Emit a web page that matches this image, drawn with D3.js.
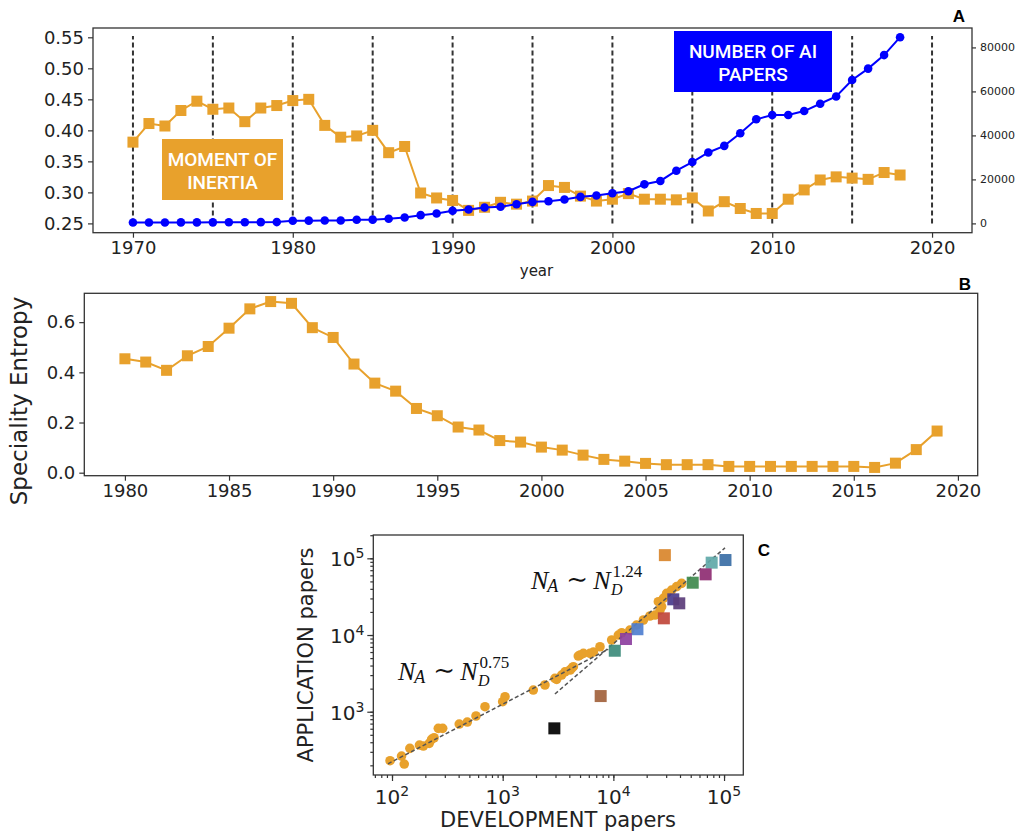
<!DOCTYPE html>
<html><head><meta charset="utf-8">
<script src="https://cdn.jsdelivr.net/npm/d3@7"></script>
<style>body{margin:0;background:#fff} svg{display:block}</style>
</head><body>
<svg id="c" width="1032" height="833"></svg>
<script>
// ---------- Panel A data ----------
const yearsA = [1970,1971,1972,1973,1974,1975,1976,1977,1978,1979,1980,1981,1982,1983,1984,1985,1986,1987,1988,1989,1990,1991,1992,1993,1994,1995,1996,1997,1998,1999,2000,2001,2002,2003,2004,2005,2006,2007,2008,2009,2010,2011,2012,2013,2014,2015,2016,2017,2018];
const inertia = [0.381,0.411,0.407,0.432,0.447,0.434,0.436,0.414,0.436,0.440,0.448,0.450,0.408,0.389,0.391,0.400,0.364,0.374,0.299,0.291,0.287,0.271,0.276,0.284,0.281,0.286,0.311,0.308,0.294,0.286,0.289,0.298,0.289,0.289,0.288,0.291,0.270,0.285,0.274,0.266,0.266,0.289,0.304,0.320,0.325,0.323,0.321,0.332,0.328];
const aiPapers = [400,420,430,450,460,480,500,520,560,600,1200,1250,1300,1350,1650,1700,2100,2700,3750,4500,5740,6330,7230,7600,8720,9800,10080,10850,12070,12650,13700,14600,17760,19300,23950,27880,32230,35250,41000,47320,49270,49300,51070,54380,57700,65220,70370,76520,84650];
const vlineYears = [1970,1975,1980,1985,1990,1995,2000,2005,2010,2015,2020];
const xTicksA = [1970,1980,1990,2000,2010,2020];
const yTicksA = [0.25,0.30,0.35,0.40,0.45,0.50,0.55];
const yTicksRightA = [0,20000,40000,60000,80000];
const labelInertia = ["MOMENT OF","INERTIA"];
const labelPapers = ["NUMBER OF AI","PAPERS"];

// ---------- Panel B data ----------
const yearsB = [1980,1981,1982,1983,1984,1985,1986,1987,1988,1989,1990,1991,1992,1993,1994,1995,1996,1997,1998,1999,2000,2001,2002,2003,2004,2005,2006,2007,2008,2009,2010,2011,2012,2013,2014,2015,2016,2017,2018,2019];
const entropy = [0.454,0.441,0.408,0.466,0.503,0.576,0.653,0.682,0.675,0.578,0.539,0.433,0.357,0.325,0.256,0.227,0.182,0.170,0.128,0.122,0.102,0.090,0.070,0.053,0.046,0.037,0.032,0.032,0.032,0.025,0.025,0.025,0.025,0.025,0.025,0.025,0.021,0.038,0.092,0.166];
const xTicksB = [1980,1985,1990,1995,2000,2005,2010,2015,2020];
const yTicksB = [0.0,0.2,0.4,0.6];

// ---------- Panel C data ----------
const devPapers = [96,122,129,145,177,192,217,228,240,262,287,405,479,574,692,1000,1050,1890,2410,2965,3075,3410,3656,4070,4200,4350,4820,4990,5360,6150,6600,7570,9660,11100,11900,14100,16200,18700,21400,23800,26400,25500,27300,28300,30300,33600,37300,41400];
const appPapers = [230,264,208,333,368,357,387,436,458,607,607,691,734,879,1162,1350,1570,1918,2230,2725,2642,3006,3313,3500,3680,3860,5320,5480,5770,5770,6000,7030,8610,10000,10700,11600,13500,15700,17700,18200,21200,27200,23400,30100,34900,38600,42700,47200];
const fieldDev = [29200,77300,103000,68200,52100,34800,39400,28600,16500,13000,10300,7680,2930];
const fieldApp = [110000,87800,95000,61800,48100,29200,25900,16500,11900,8870,6240,1600,607];
const fieldColors = ["#d9862b","#5fa8a8","#3a6ea5","#8e2c72","#3f8a4e","#4a3c8c","#5b3d7a","#c0473b","#4f7fd0","#8c3f9e","#3d8b7b","#a2623c","#000000"];
const fitExponents = [0.75,1.24];
const fitCoefs = [7.05,0.0843];
const fitFrom = [92,2965];
const fitTo = [9000,102000];
const logTicks = [100,1000,10000,100000];
const logTickExp = ["2","3","4","5"];

const ORANGE = "#e8a12c", BLUE = "#0000ff", AXIS = "#333";
const svg = d3.select("#c");
const FONT = "DejaVu Sans";

function styleAxis(g, fs) {
  g.select(".domain").remove();
  g.selectAll(".tick line").attr("stroke", AXIS).attr("stroke-width", 1.2);
  g.selectAll(".tick text").attr("font-family", FONT).attr("font-size", fs).attr("fill", "#222");
}
function frame(x0, y0, x1, y1) {
  svg.append("rect").attr("x", x0).attr("y", y0).attr("width", x1 - x0).attr("height", y1 - y0)
    .attr("fill", "none").attr("stroke", AXIS).attr("stroke-width", 1.3);
}

// ================= Panel A =================
const A = {l: 93, r: 972, t: 28, b: 232.7};
const xA = d3.scaleLinear().domain([1967.5, 2022.5]).range([A.l, A.r]);
const yA = d3.scaleLinear().domain([0.235, 0.565]).range([A.b, A.t]);
const yA2 = d3.scaleLinear().domain([-4230, 88830]).range([A.b, A.t]);

svg.append("g").attr("transform", `translate(0,${A.b})`)
  .call(d3.axisBottom(xA).tickValues(xTicksA).tickFormat(d3.format("d")).tickSize(5).tickPadding(4))
  .call(g => styleAxis(g, 18));
svg.append("g").attr("transform", `translate(${A.l},0)`)
  .call(d3.axisLeft(yA).tickValues(yTicksA).tickFormat(d3.format(".2f")).tickSize(5).tickPadding(4))
  .call(g => styleAxis(g, 18));
svg.append("g").attr("transform", `translate(${A.r},0)`)
  .call(d3.axisRight(yA2).tickValues(yTicksRightA).tickFormat(d3.format("d")).tickSize(4).tickPadding(4))
  .call(g => styleAxis(g, 11));

svg.append("g").selectAll("line").data(vlineYears).join("line")
  .attr("x1", d => xA(d)).attr("x2", d => xA(d))
  .attr("y1", yA(0.25)).attr("y2", yA(0.552))
  .attr("stroke", "#333").attr("stroke-width", 2).attr("stroke-dasharray", "5,3");

const inertiaPts = yearsA.map((y, i) => [y, inertia[i]]);
const paperPts = yearsA.map((y, i) => [y, aiPapers[i]]);
svg.append("path").datum(inertiaPts)
  .attr("d", d3.line().x(d => xA(d[0])).y(d => yA(d[1])))
  .attr("fill", "none").attr("stroke", ORANGE).attr("stroke-width", 2);
svg.append("g").selectAll("rect").data(inertiaPts).join("rect")
  .attr("x", d => xA(d[0]) - 5.5).attr("y", d => yA(d[1]) - 5.5)
  .attr("width", 11).attr("height", 11).attr("fill", ORANGE);
svg.append("path").datum(paperPts)
  .attr("d", d3.line().x(d => xA(d[0])).y(d => yA2(d[1])))
  .attr("fill", "none").attr("stroke", BLUE).attr("stroke-width", 2);
svg.append("g").selectAll("circle").data(paperPts).join("circle")
  .attr("cx", d => xA(d[0])).attr("cy", d => yA2(d[1])).attr("r", 4.3).attr("fill", BLUE);

frame(A.l, A.t, A.r, A.b);

function labelBox(x0, y0, w, h, fill, lines, cx, base0) {
  svg.append("rect").attr("x", x0).attr("y", y0).attr("width", w).attr("height", h).attr("fill", fill);
  lines.forEach((t, i) => svg.append("text").attr("x", cx).attr("y", base0 + i * 23.5)
    .attr("text-anchor", "middle").attr("font-family", "Roboto").attr("font-weight", 500)
    .attr("font-size", 19).attr("fill", "#fff").text(t));
}
labelBox(162, 139, 121, 61, ORANGE, labelInertia, 222.5, 165.5);
labelBox(674, 31, 158, 61, BLUE, labelPapers, 753, 57.5);

svg.append("text").attr("x", (A.l + A.r) / 2 + 4).attr("y", 276).attr("text-anchor", "middle")
  .attr("font-family", FONT).attr("font-size", 15).attr("fill", "#222").text("year");
svg.append("text").attr("x", 959).attr("y", 22).attr("text-anchor", "middle")
  .attr("font-family", "Liberation Sans").attr("font-weight", "bold").attr("font-size", 17).text("A");

// ================= Panel B =================
const B = {l: 84.3, r: 977.7, t: 293.3, b: 475.7};
const xB = d3.scaleLinear().domain([1978.05, 2020.95]).range([B.l, B.r]);
const yB = d3.scaleLinear().domain([-0.012, 0.715]).range([B.b, B.t]);
svg.append("g").attr("transform", `translate(0,${B.b})`)
  .call(d3.axisBottom(xB).tickValues(xTicksB).tickFormat(d3.format("d")).tickSize(5).tickPadding(4))
  .call(g => styleAxis(g, 18));
svg.append("g").attr("transform", `translate(${B.l},0)`)
  .call(d3.axisLeft(yB).tickValues(yTicksB).tickFormat(d3.format(".1f")).tickSize(5).tickPadding(4))
  .call(g => styleAxis(g, 18));
const entPts = yearsB.map((y, i) => [y, entropy[i]]);
svg.append("path").datum(entPts)
  .attr("d", d3.line().x(d => xB(d[0])).y(d => yB(d[1])))
  .attr("fill", "none").attr("stroke", ORANGE).attr("stroke-width", 2);
svg.append("g").selectAll("rect").data(entPts).join("rect")
  .attr("x", d => xB(d[0]) - 5.5).attr("y", d => yB(d[1]) - 5.5)
  .attr("width", 11).attr("height", 11).attr("fill", ORANGE);
frame(B.l, B.t, B.r, B.b);
svg.append("text").attr("transform", "translate(27,401) rotate(-90)").attr("text-anchor", "middle")
  .attr("font-family", FONT).attr("font-size", 23).attr("fill", "#222").text("Speciality Entropy");
svg.append("text").attr("x", 965).attr("y", 290).attr("text-anchor", "middle")
  .attr("font-family", "Liberation Sans").attr("font-weight", "bold").attr("font-size", 17).text("B");

// ================= Panel C =================
const C = {l: 373.3, r: 743.3, t: 535, b: 775};
const xC = d3.scaleLog().domain([Math.pow(10, 1.831), Math.pow(10, 5.174)]).range([C.l, C.r]);
const yC = d3.scaleLog().domain([Math.pow(10, 2.175), Math.pow(10, 5.304)]).range([C.b, C.t]);
svg.append("g").attr("transform", `translate(0,${C.b})`)
  .call(d3.axisBottom(xC).tickValues(xC.ticks()).tickFormat(() => "").tickSize(3))
  .call(g => styleAxis(g, 10));
svg.append("g").attr("transform", `translate(${C.l},0)`)
  .call(d3.axisLeft(yC).tickValues(yC.ticks()).tickFormat(() => "").tickSize(3))
  .call(g => styleAxis(g, 10));
svg.append("g").attr("transform", `translate(0,${C.b})`)
  .call(d3.axisBottom(xC).tickValues(logTicks).tickFormat(() => "").tickSize(6))
  .call(g => styleAxis(g, 10));
svg.append("g").attr("transform", `translate(${C.l},0)`)
  .call(d3.axisLeft(yC).tickValues(logTicks.slice(1)).tickFormat(() => "").tickSize(6))
  .call(g => styleAxis(g, 10));
logTicks.forEach((v, i) => {
  const t = svg.append("text").attr("x", xC(v)).attr("y", C.b + 29).attr("text-anchor", "middle")
    .attr("font-family", FONT).attr("font-size", 20).attr("fill", "#222");
  t.append("tspan").text("10");
  t.append("tspan").attr("font-size", 14).attr("dy", -8).text(logTickExp[i]);
});
logTicks.slice(1).forEach((v, i) => {
  const t = svg.append("text").attr("x", C.l - 9).attr("y", yC(v) + 8).attr("text-anchor", "end")
    .attr("font-family", FONT).attr("font-size", 20).attr("fill", "#222");
  t.append("tspan").text("10");
  t.append("tspan").attr("font-size", 14).attr("dy", -8).text(logTickExp[i + 1]);
});

const scPts = devPapers.map((d, i) => [d, appPapers[i]]);
svg.append("g").selectAll("circle").data(scPts).join("circle")
  .attr("cx", d => xC(d[0])).attr("cy", d => yC(d[1])).attr("r", 4.8).attr("fill", ORANGE);
fitExponents.forEach((e, i) => {
  const pts = [fitFrom[i], fitTo[i]].map(x => [x, fitCoefs[i] * Math.pow(x, e)]);
  svg.append("path").datum(pts)
    .attr("d", d3.line().x(d => xC(d[0])).y(d => yC(d[1])))
    .attr("fill", "none").attr("stroke", "#555").attr("stroke-width", 1.5).attr("stroke-dasharray", "4,2.5");
});
const fieldPts = fieldDev.map((d, i) => [d, fieldApp[i], fieldColors[i]]);
svg.append("g").selectAll("rect").data(fieldPts).join("rect")
  .attr("x", d => xC(d[0]) - 6).attr("y", d => yC(d[1]) - 6).attr("width", 12).attr("height", 12)
  .attr("fill", d => d[2]).attr("opacity", 0.92);
frame(C.l, C.t, C.r, C.b);

// formula N_A ~ N_D^expo ; sub- and superscript separated vertically
function formula(x, y, expo) {
  const t = svg.append("text").attr("x", x).attr("y", y).attr("font-family", "Liberation Serif")
    .attr("font-size", 26).attr("fill", "#111");
  t.append("tspan").attr("font-style", "italic").text("N");
  t.append("tspan").attr("font-style", "italic").attr("font-size", 18).attr("dx", -1).attr("dy", 3).text("A");
  t.append("tspan").attr("font-family", "DejaVu Serif").attr("dx", 8).attr("dy", -4).text("\u223C");
  t.append("tspan").attr("font-style", "italic").attr("dx", 5).attr("dy", 1).text("N");
  const n = t.node();
  const endX = n.getEndPositionOfChar(n.getNumberOfChars() - 1).x;
  svg.append("text").attr("x", endX + 0.5).attr("y", y + 6).attr("font-family", "Liberation Serif")
    .attr("font-style", "italic").attr("font-size", 16).attr("fill", "#111").text("D");
  svg.append("text").attr("x", endX + 2).attr("y", y - 12.5).attr("font-family", "Liberation Serif")
    .attr("font-size", 17).attr("fill", "#111").text(expo);
}
formula(531, 589, "1.24");
formula(398, 680, "0.75");

svg.append("text").attr("transform", "translate(313,655) rotate(-90)").attr("text-anchor", "middle")
  .attr("font-family", FONT).attr("font-size", 21).attr("fill", "#222").text("APPLICATION papers");
svg.append("text").attr("x", 558).attr("y", 827).attr("text-anchor", "middle")
  .attr("font-family", FONT).attr("font-size", 21).attr("fill", "#222").text("DEVELOPMENT papers");
svg.append("text").attr("x", 764).attr("y", 556).attr("text-anchor", "middle")
  .attr("font-family", "Liberation Sans").attr("font-weight", "bold").attr("font-size", 17).text("C");
</script>
</body></html>
